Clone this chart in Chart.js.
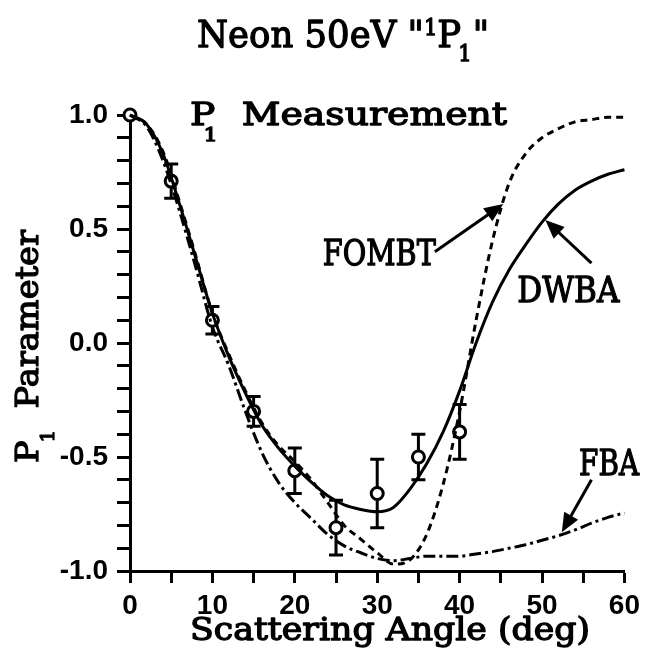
<!DOCTYPE html>
<html>
<head>
<meta charset="utf-8">
<script src="https://cdn.jsdelivr.net/npm/chart.js@4/dist/chart.umd.min.js"></script>
<style>
  html, body { margin: 0; padding: 0; background: #fff; }
  canvas { display: block; }
</style>
</head>
<body>
<canvas id="chart" width="646" height="665"></canvas>
<script>
// theory curves, sampled every 2 deg
const angles = [0,2,4,6,8,10,12,14,16,18,20,22,24,26,28,30,32,34,36,38,40,42,44,46,48,50,52,54,56,58,60];
const dwba  = [1.0,0.96,0.83,0.61,0.37,0.13,-0.06,-0.22,-0.36,-0.46,-0.54,-0.61,-0.67,-0.71,-0.73,-0.74,-0.72,-0.64,-0.53,-0.39,-0.21,0.0,0.18,0.32,0.43,0.53,0.61,0.67,0.71,0.74,0.76];
const fombt = [1.0,0.96,0.84,0.62,0.38,0.13,-0.05,-0.21,-0.35,-0.45,-0.52,-0.60,-0.70,-0.80,-0.86,-0.92,-0.97,-0.95,-0.84,-0.62,-0.30,0.10,0.45,0.70,0.83,0.90,0.94,0.97,0.98,0.99,0.99];
const fba   = [1.0,0.95,0.80,0.58,0.33,0.07,-0.10,-0.30,-0.48,-0.61,-0.70,-0.77,-0.84,-0.89,-0.92,-0.945,-0.955,-0.945,-0.935,-0.935,-0.935,-0.925,-0.915,-0.90,-0.885,-0.865,-0.845,-0.82,-0.79,-0.765,-0.745];

// measurement with error bars
const measAngle = [0,5,10,15,20,25,30,35,40];
const measP1    = [1.0,0.71,0.10,-0.30,-0.56,-0.81,-0.66,-0.50,-0.39];
const measErr   = [0,0.075,0.06,0.065,0.10,0.12,0.15,0.10,0.12];

const xTicks = [0,10,20,30,40,50,60];
const yTicks = [-1.0,-0.5,0.0,0.5,1.0];

// curve labels with arrows (data units)
const notes = [
  {text:'FOMBT', left:23.4, base:0.34, width:113, from:[37.0,0.40], to:[45.3,0.61]},
  {text:'DWBA',  left:47.0, base:0.18, width:102, from:[56.0,0.35], to:[50.4,0.54]},
  {text:'FBA',   left:54.5, base:-0.58, width:60, from:[56.0,-0.60], to:[52.4,-0.83]}
];

const serif = '"DejaVu Serif", serif';

function pts(xs, ys) { return xs.map((x,i) => ({x:x, y:ys[i]})); }

// draws runs of text squeezed to a given width, a little heavier than normal
function richText(ctx, runs, left, base, width, size) {
  ctx.save();
  let total = 0;
  runs.forEach(r => {
    ctx.font = Math.round(size*(r.s||1)) + 'px ' + serif;
    r.w = ctx.measureText(r.t).width;
    total += r.w + (r.dx||0);
  });
  ctx.translate(left, base);
  ctx.scale(width/total, 1);
  ctx.lineWidth = 1.3;
  ctx.lineJoin = 'round';
  let cx = 0;
  runs.forEach(r => {
    cx += r.dx||0;
    ctx.font = Math.round(size*(r.s||1)) + 'px ' + serif;
    ctx.fillText(r.t, cx, r.dy||0);
    ctx.strokeText(r.t, cx, r.dy||0);
    cx += r.w;
  });
  ctx.restore();
}

function arrow(ctx, x1, y1, x2, y2) {
  const a = Math.atan2(y2-y1, x2-x1);
  ctx.beginPath();
  ctx.moveTo(x1, y1);
  ctx.lineTo(x2 - 10*Math.cos(a), y2 - 10*Math.sin(a));
  ctx.stroke();
  ctx.beginPath();
  ctx.moveTo(x2, y2);
  ctx.lineTo(x2 - 19*Math.cos(a) + 8*Math.sin(a), y2 - 19*Math.sin(a) - 8*Math.cos(a));
  ctx.lineTo(x2 - 19*Math.cos(a) - 8*Math.sin(a), y2 - 19*Math.sin(a) + 8*Math.cos(a));
  ctx.closePath();
  ctx.fill();
}

const errorBars = {
  id: 'errorBars',
  beforeDatasetsDraw(chart) {
    const {ctx, scales:{x, y}} = chart;
    ctx.save();
    ctx.strokeStyle = '#000';
    ctx.lineWidth = 3;
    measAngle.forEach((a,i) => {
      if (!measErr[i]) return;
      const px = x.getPixelForValue(a);
      const top = y.getPixelForValue(measP1[i] + measErr[i]);
      const bot = y.getPixelForValue(measP1[i] - measErr[i]);
      ctx.beginPath();
      ctx.moveTo(px, top); ctx.lineTo(px, bot);
      ctx.moveTo(px-7, top); ctx.lineTo(px+7, top);
      ctx.moveTo(px-7, bot); ctx.lineTo(px+7, bot);
      ctx.stroke();
    });
    ctx.restore();
  }
};

const texts = {
  id: 'texts',
  afterDraw(chart) {
    const {ctx, scales:{x, y}} = chart;
    ctx.save();
    ctx.fillStyle = '#000';
    ctx.strokeStyle = '#000';
    ctx.textBaseline = 'alphabetic';

    richText(ctx, [{t:'Neon 50eV "'}, {t:'1', s:0.6, dy:-12}, {t:'P'}, {t:'1', s:0.6, dy:14, dx:-3}, {t:'"', dx:1}], 197, 47, 292, 37);
    richText(ctx, [{t:'P'}, {t:'1', s:0.6, dy:16, dx:-10}, {t:'  Measurement'}], 190, 125, 317, 32);

    // y title, rotated
    ctx.save();
    ctx.translate(38, 463);
    ctx.rotate(-Math.PI/2);
    richText(ctx, [{t:'P'}, {t:'1', s:0.6, dy:16, dx:-2}, {t:'  Parameter'}], 0, 0, 233, 32);
    ctx.restore();

    richText(ctx, [{t:'Scattering Angle (deg)'}], 190, 640, 400, 31);

    ctx.lineWidth = 3;
    notes.forEach(n => {
      richText(ctx, [{t:n.text}], x.getPixelForValue(n.left), y.getPixelForValue(n.base), n.width, 36);
      ctx.lineWidth = 3;
      arrow(ctx, x.getPixelForValue(n.from[0]), y.getPixelForValue(n.from[1]),
                 x.getPixelForValue(n.to[0]), y.getPixelForValue(n.to[1]));
    });
    ctx.restore();
  }
};

const lineStyle = (label, ys, dash) => ({
  type: 'line', label: label, data: pts(angles, ys),
  borderColor: '#000', borderWidth: 3, borderDash: dash,
  pointRadius: 0, cubicInterpolationMode: 'monotone', fill: false, clip: false
});

new Chart(document.getElementById('chart'), {
  data: {
    datasets: [
      lineStyle('DWBA', dwba, []),
      lineStyle('FOMBT', fombt, [7, 5]),
      lineStyle('FBA', fba, [12, 4, 3, 4]),
      {
        type: 'scatter', label: 'Measurement', data: pts(measAngle, measP1),
        pointRadius: 6, pointBackgroundColor: '#fff', pointBorderColor: '#000',
        pointBorderWidth: 3, showLine: false, clip: false
      }
    ]
  },
  options: {
    responsive: false,
    animation: false,
    devicePixelRatio: 1,
    layout: { padding: { top: 115, right: 21, left: 0, bottom: 0 } },
    plugins: { legend: { display: false }, tooltip: { enabled: false } },
    scales: {
      x: {
        type: 'linear', min: 0, max: 60,
        afterFit: s => { s.height = 94; },
        border: { display: true, color: '#000', width: 3 },
        grid: { drawOnChartArea: false, drawTicks: true, tickLength: 12, tickWidth: 3, tickColor: '#000' },
        ticks: {
          stepSize: 5, autoSkip: false, maxRotation: 0, padding: 6, color: '#000',
          font: { family: '"Liberation Sans", Arial, sans-serif', size: 28, weight: 'bold' },
          callback: v => xTicks.includes(v) ? String(v) : ''
        }
      },
      y: {
        type: 'linear', min: -1, max: 1,
        afterFit: s => { s.width = 130; },
        border: { display: true, color: '#000', width: 3 },
        grid: { drawOnChartArea: false, drawTicks: true, tickLength: 13, tickWidth: 3, tickColor: '#000' },
        ticks: {
          stepSize: 0.1, autoSkip: false, padding: 9, color: '#000',
          font: { family: '"Liberation Sans", Arial, sans-serif', size: 28, weight: 'bold' },
          callback: v => yTicks.some(t => Math.abs(t - v) < 1e-6) ? v.toFixed(1) : ''
        }
      }
    }
  },
  plugins: [errorBars, texts]
});
</script>
</body>
</html>
